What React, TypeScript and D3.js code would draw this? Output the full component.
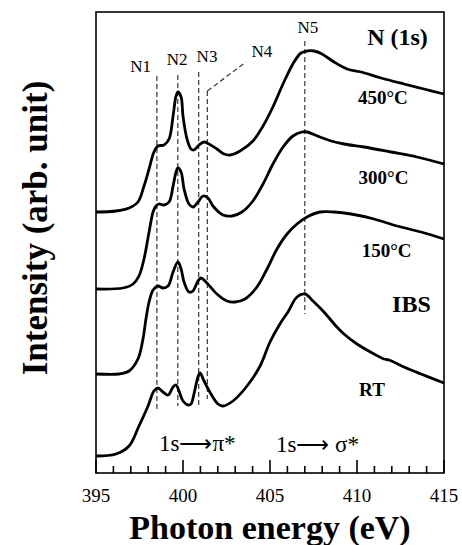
import React, { useRef, useEffect } from "react";
import * as d3 from "d3";

type Pt = [number, number];

// photon energy (eV), intensity (arb. unit, curves stacked)
const energyTicks = [395, 400, 405, 410, 415];

const peakNames = ["N1", "N2", "N3", "N4", "N5"];
const peakEnergies = [398.5, 399.7, 400.9, 401.4, 407.0];

const curve450: Pt[] = [
  [395.0, 26.1], [396.15, 26.2], [396.9, 26.5], [397.41, 27.1], [397.76, 28.7],
  [398.05, 30.4], [398.33, 32.1], [398.56, 32.7], [398.91, 32.8], [399.2, 33.4],
  [399.43, 35.7], [399.6, 37.7], [399.71, 38.1], [399.89, 37.6], [400.0, 35.7],
  [400.23, 33.4], [400.46, 32.4], [400.63, 32.3], [400.92, 32.8], [401.21, 33.1],
  [401.49, 32.9], [401.95, 32.4], [402.36, 31.9], [402.7, 31.8], [403.28, 32.2],
  [404.02, 33.2], [404.6, 34.7], [405.11, 36.4], [405.8, 39.1], [406.38, 41.1],
  [406.78, 42.0], [407.13, 42.2], [407.53, 42.2], [407.99, 41.9], [408.68, 41.1],
  [409.43, 40.4], [410.23, 40.1], [411.38, 39.5], [412.7, 38.9], [413.85, 38.4],
  [415.0, 37.9],
];

const curve300: Pt[] = [
  [395.0, 18.4], [396.55, 18.5], [397.13, 18.9], [397.47, 19.7], [397.76, 21.4],
  [398.05, 24.1], [398.28, 26.1], [398.45, 26.7], [398.62, 26.9], [398.91, 26.8],
  [399.2, 27.1], [399.43, 28.7], [399.6, 30.1], [399.71, 30.5], [399.89, 30.1],
  [400.06, 28.4], [400.34, 26.9], [400.57, 26.6], [400.86, 27.1], [401.15, 27.7],
  [401.44, 27.5], [401.72, 26.7], [402.3, 25.8], [402.82, 25.7], [403.39, 26.1],
  [404.02, 27.2], [404.6, 28.9], [405.17, 30.9], [405.75, 32.6], [406.32, 33.7],
  [406.84, 34.1], [407.13, 34.1], [407.87, 33.6], [408.51, 33.2], [409.25, 32.9],
  [410.4, 32.6], [411.95, 32.1], [413.45, 31.6], [415.0, 30.9],
];

const curve150: Pt[] = [
  [395.0, 9.9], [396.32, 9.9], [396.9, 10.2], [397.41, 11.4], [397.7, 13.4],
  [397.87, 15.4], [398.05, 17.1], [398.28, 18.3], [398.56, 18.7], [398.85, 18.5],
  [399.14, 18.7], [399.43, 20.1], [399.71, 21.1], [399.89, 20.4], [400.06, 19.1],
  [400.34, 18.1], [400.57, 18.2], [400.86, 19.2], [401.03, 19.5], [401.32, 19.1],
  [401.95, 17.9], [402.53, 17.2], [402.99, 17.1], [403.56, 17.4], [404.25, 18.6],
  [404.83, 20.4], [405.4, 22.4], [405.98, 23.9], [406.55, 24.9], [407.13, 25.6],
  [407.87, 26.1], [408.68, 26.1], [409.66, 25.9], [410.98, 25.4], [412.3, 24.7],
  [413.68, 24.1], [415.0, 23.4],
];

const curveRT: Pt[] = [
  [395.0, 1.7], [396.15, 1.9], [396.9, 2.7], [397.47, 4.7], [397.99, 6.7],
  [398.33, 8.2], [398.56, 8.5], [398.85, 8.1], [399.14, 7.8], [399.43, 8.6],
  [399.6, 8.8], [399.77, 8.2], [400.0, 7.2], [400.29, 6.8], [400.46, 6.9],
  [400.63, 7.9], [400.86, 9.6], [400.98, 10.0], [401.21, 9.2], [401.61, 7.9],
  [402.01, 6.9], [402.3, 6.7], [402.87, 7.2], [403.68, 8.7], [404.43, 10.7],
  [405.0, 13.1], [405.57, 14.9], [406.03, 16.1], [406.55, 17.6], [407.01, 17.9],
  [407.47, 17.2], [408.1, 16.1], [408.79, 14.7], [409.25, 13.9], [410.0, 12.9],
  [410.98, 11.9], [411.55, 11.4], [411.84, 11.3], [412.7, 10.6], [413.68, 9.9],
  [415.0, 9.0],
];

const curves = [curve450, curve300, curve150, curveRT];
const curveNames = ["450°C", "300°C", "150°C", "RT"];

const W = 462;
const H = 545;
const margin = { left: 96, right: 18, top: 12, bottom: 72 };
const serif = "'Liberation Serif', 'Times New Roman', serif";

const App = () => {
  const ref = useRef<SVGSVGElement>(null);

  useEffect(() => {
    const svg = d3.select(ref.current);
    svg.selectAll("*").remove();

    const x = d3.scaleLinear().domain([395, 415]).range([margin.left, W - margin.right]);
    const y = d3.scaleLinear().domain([0, 46.1]).range([H - margin.bottom, margin.top]);
    const y0 = H - margin.bottom;

    // dashed peak guides
    const lineTop = [39.7, 39.8, 40.1, 38.2, 43.2];
    const lineBottom = [6.4, 6.7, 6.8, 7.4, 15.9];
    const guides = svg.append("g").attr("stroke", "#444").attr("stroke-width", 1.3)
      .attr("stroke-dasharray", "5,3");
    peakEnergies.forEach((e, i) => {
      guides.append("line")
        .attr("x1", x(e)).attr("x2", x(e))
        .attr("y1", y(lineTop[i])).attr("y2", y(lineBottom[i]));
    });
    // leader from N4 line to its label
    guides.append("line")
      .attr("x1", x(peakEnergies[3])).attr("y1", y(lineTop[3]))
      .attr("x2", x(403.62)).attr("y2", y(41.1));

    // spectra
    const line = d3.line<Pt>()
      .x((d) => x(d[0]))
      .y((d) => y(d[1]))
      .curve(d3.curveCatmullRom.alpha(0.5));

    svg.append("g").selectAll("path").data(curves).join("path")
      .attr("d", (d) => line(d))
      .attr("fill", "none")
      .attr("stroke", "#000")
      .attr("stroke-width", 2.8)
      .attr("stroke-linejoin", "round");

    // frame
    svg.append("rect")
      .attr("x", margin.left).attr("y", margin.top)
      .attr("width", W - margin.left - margin.right)
      .attr("height", H - margin.top - margin.bottom)
      .attr("fill", "none").attr("stroke", "#000").attr("stroke-width", 1.6);

    // x axis: inward ticks, every 1 eV, long ones every 5 eV
    const allTicks = d3.range(395, 416, 1);
    svg.append("g").selectAll("line").data(allTicks).join("line")
      .attr("x1", (d) => x(d)).attr("x2", (d) => x(d))
      .attr("y1", y0)
      .attr("y2", (d) => (d % 5 === 0 ? y0 - 13 : y0 - 7))
      .style("stroke", "#000").style("stroke-width", "1.6px");

    svg.append("g").selectAll("text").data(energyTicks).join("text")
      .attr("x", (d) => x(d)).attr("y", y0 + 29)
      .attr("text-anchor", "middle")
      .attr("font-family", serif).attr("font-size", 19)
      .text((d) => d);

    // peak labels
    const peakLabelPos: Pt[] = [[397.56, 40.1], [399.66, 40.8], [401.38, 41.1], [404.54, 41.6], [407.18, 44.0]];
    svg.append("g").selectAll("text").data(peakNames).join("text")
      .attr("x", (d, i) => x(peakLabelPos[i][0]))
      .attr("y", (d, i) => y(peakLabelPos[i][1]))
      .attr("text-anchor", "middle")
      .attr("font-family", serif).attr("font-size", 17)
      .text((d) => d);

    // sample labels
    const namePos: Pt[] = [[411.49, 36.9], [411.52, 28.9], [411.7, 21.6], [410.86, 7.7]];
    svg.append("g").selectAll("text").data(curveNames).join("text")
      .attr("x", (d, i) => x(namePos[i][0]))
      .attr("y", (d, i) => y(namePos[i][1]))
      .attr("text-anchor", "middle")
      .attr("font-family", serif).attr("font-weight", "bold").attr("font-size", 19)
      .text((d) => d);

    svg.append("text")
      .attr("x", x(413.13)).attr("y", y(16.1))
      .attr("text-anchor", "middle")
      .attr("font-family", serif).attr("font-weight", "bold").attr("font-size", 24)
      .text("IBS");

    svg.append("text")
      .attr("x", x(412.33)).attr("y", y(42.8))
      .attr("text-anchor", "middle")
      .attr("font-family", serif).attr("font-weight", "bold").attr("font-size", 24)
      .text("N (1s)");

    svg.append("text")
      .attr("x", x(398.62)).attr("y", y(2.2))
      .attr("font-family", serif).attr("font-size", 23)
      .text("1s⟶π*");

    svg.append("text")
      .attr("x", x(405.34)).attr("y", y(2.1))
      .attr("font-family", serif).attr("font-size", 23)
      .text("1s⟶ σ*");

    // axis titles
    svg.append("text")
      .attr("x", 270).attr("y", 539)
      .attr("text-anchor", "middle")
      .attr("font-family", serif).attr("font-weight", "bold").attr("font-size", 34)
      .text("Photon energy (eV)");

    svg.append("text")
      .attr("transform", `translate(47,228) rotate(-90)`)
      .attr("text-anchor", "middle")
      .attr("font-family", serif).attr("font-weight", "bold").attr("font-size", 35)
      .text("Intensity (arb. unit)");
  }, []);

  return (
    <svg
      ref={ref}
      width={W}
      height={H}
      style={{ position: "absolute", left: 0, top: 0, background: "#fff" }}
    />
  );
};

export default App;
